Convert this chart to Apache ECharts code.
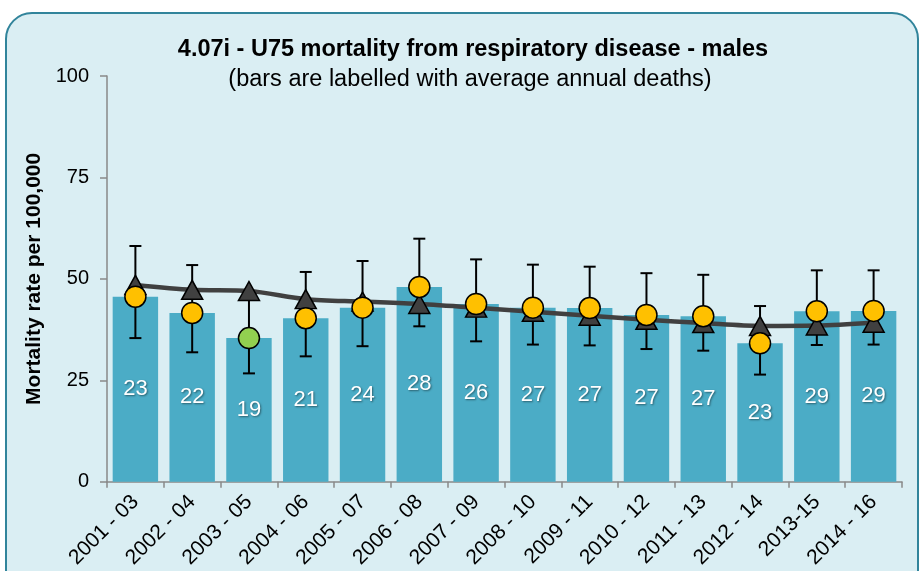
<!DOCTYPE html>
<html>
<head>
<meta charset="utf-8">
<script src="https://cdn.jsdelivr.net/npm/echarts@6/dist/echarts.min.js"></script>
<style>
html,body{margin:0;padding:0;background:#ffffff;}
#chart{width:921px;height:571px;}
</style>
</head>
<body>
<div id="chart"></div>
<script>
const categories = ['2001 - 03','2002 - 04','2003 - 05','2004 - 06','2005 - 07','2006 - 08','2007 - 09','2008 - 10','2009 - 11','2010 - 12','2011 - 13','2012 - 14','2013-15','2014 - 16'];
const rates = [45.6, 41.6, 35.4, 40.3, 42.9, 48.0, 43.8, 42.9, 42.8, 41.1, 40.8, 34.1, 42.0, 42.1];
const deaths = [23, 22, 19, 21, 24, 28, 26, 27, 27, 27, 27, 23, 29, 29];
const lowerCI = [35.4, 31.9, 26.7, 30.9, 33.4, 38.3, 34.6, 33.8, 33.6, 32.7, 32.3, 26.4, 33.7, 33.8];
const upperCI = [58.1, 53.4, 45.5, 51.7, 54.4, 59.9, 54.8, 53.5, 53.0, 51.4, 51.0, 43.3, 52.1, 52.1];
const england = [48.5, 47.3, 47.0, 45.0, 44.4, 43.8, 42.9, 41.9, 40.9, 39.9, 39.1, 38.4, 38.5, 39.2];
const significance = ['same','same','lower','same','same','same','same','same','same','same','same','same','same','same'];
const yTicks = [0, 25, 50, 75, 100];

const sigColors = {same:'#FFC000', lower:'#92D050', higher:'#FF0000'};

const chart = echarts.init(document.getElementById('chart'), null, {renderer:'canvas'});
const FONT = '"Liberation Sans", Arial, sans-serif';

const option = {
  backgroundColor: '#ffffff',
  animation: false,
  graphic: [{
    type: 'rect', z: -10, silent: true,
    shape: {x: 6, y: 13, width: 912, height: 620, r: 26},
    style: {fill: '#DAEEF3', stroke: '#31849B', lineWidth: 2}
  }],
  title: [{
    text: '4.07i - U75 mortality from respiratory disease - males',
    left: 468, top: 33, textAlign: 'center',
    textStyle: {fontFamily: FONT, fontSize: 23.5, fontWeight: 'bold', color: '#000'}
  }, {
    text: '(bars are labelled with average annual deaths)',
    left: 465, top: 63, textAlign: 'center',
    textStyle: {fontFamily: FONT, fontSize: 23.5, fontWeight: 'normal', color: '#000'}
  }],
  grid: {left: 107, right: 19, top: 76, bottom: 89, containLabel: false},
  xAxis: {
    type: 'category', data: categories, boundaryGap: true,
    axisLine: {lineStyle: {color: '#898989', width: 1.5}},
    axisTick: {show: true, length: 6, lineStyle: {color: '#898989', width: 1.5}},
    axisLabel: {rotate: 45, fontFamily: FONT, fontSize: 21, color: '#000', margin: 17, interval: 0}
  },
  yAxis: {
    type: 'value', min: 0, max: 100, interval: 25,
    name: 'Mortality rate per 100,000', nameLocation: 'middle', nameGap: 61, nameRotate: 90,
    nameTextStyle: {fontFamily: FONT, fontSize: 21, fontWeight: 'bold', color: '#000'},
    axisLine: {show: true, lineStyle: {color: '#898989', width: 1.5}},
    axisTick: {show: true, length: 7, lineStyle: {color: '#898989', width: 1.5}},
    splitLine: {show: false},
    axisLabel: {fontFamily: FONT, fontSize: 20, color: '#000', margin: 18,
      formatter: v => yTicks.includes(v) ? String(v) : ''}
  },
  series: [{
    type: 'bar', data: rates, barCategoryGap: '20%', z: 1,
    itemStyle: {color: '#4BACC6'},
    label: {
      show: true, position: 'inside',
      formatter: p => String(deaths[p.dataIndex]),
      fontFamily: FONT, fontSize: 22, color: '#fff',
      textShadowColor: 'rgba(0,0,0,0.45)', textShadowBlur: 2, textShadowOffsetX: 1, textShadowOffsetY: 1
    }
  }, {
    type: 'custom', z: 2,
    data: categories.map((c, i) => [i, lowerCI[i], upperCI[i]]),
    renderItem: function (params, api) {
      const i = api.value(0);
      const lo = api.coord([i, api.value(1)]);
      const hi = api.coord([i, api.value(2)]);
      const cap = 6;
      const st = {stroke: '#000', lineWidth: 2};
      return {type: 'group', children: [
        {type: 'line', shape: {x1: lo[0], y1: lo[1], x2: hi[0], y2: hi[1]}, style: st},
        {type: 'line', shape: {x1: lo[0]-cap, y1: lo[1], x2: lo[0]+cap, y2: lo[1]}, style: st},
        {type: 'line', shape: {x1: hi[0]-cap, y1: hi[1], x2: hi[0]+cap, y2: hi[1]}, style: st}
      ]};
    }
  }, {
    type: 'line', data: england, z: 3, smooth: 0.3,
    symbol: 'triangle', symbolSize: [21, 19], showAllSymbol: true,
    lineStyle: {color: '#404040', width: 4.5},
    itemStyle: {color: '#404040', borderColor: '#000', borderWidth: 1.5, opacity: 1}
  }, {
    type: 'scatter', z: 4,
    data: rates.map((v, i) => ({value: v, itemStyle: {color: sigColors[significance[i]]}})),
    symbol: 'circle', symbolSize: 21,
    itemStyle: {borderColor: '#000', borderWidth: 1.5, opacity: 1}
  }]
};
chart.setOption(option);
</script>
</body>
</html>
